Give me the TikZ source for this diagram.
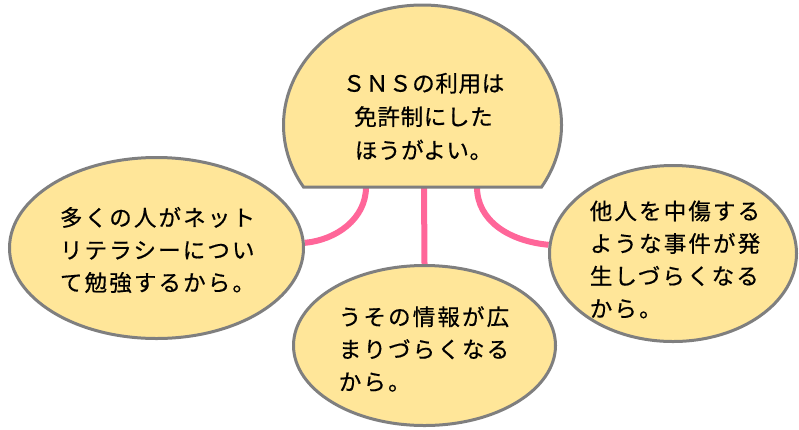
\documentclass[tikz,border=0pt]{standalone}
\usepackage{fontspec}
\newfontfamily\jp[LetterSpace=9.5,FakeBold=0.6]{Noto Sans CJK JP}
\newfontfamily\jpt[LetterSpace=3,FakeBold=0.6]{Noto Sans CJK JP}
\usetikzlibrary{shapes.geometric}
\pgfdeclarelayer{bg}
\pgfsetlayers{bg,main}
\definecolor{fillc}{HTML}{FFE699}
\definecolor{linec}{HTML}{7F7F7F}
\definecolor{pinkc}{HTML}{FF6699}
\begin{document}
\begin{tikzpicture}[x=1pt,y=-1pt,
  bubble/.style={ellipse, draw=linec, fill=fillc, line width=3pt, inner sep=0pt},
  txt/.style={font=\jp\fontsize{22.5}{32.5}\selectfont, align=left, inner sep=0pt},
  ttxt/.style={font=\jpt\fontsize{22.5}{33.5}\selectfont, align=center, inner sep=0pt},
  link/.style={draw=pinkc, line width=6pt}]
\useasboundingbox (0,0) rectangle (799,429);
% top shape
\path[draw=linec, fill=fillc, line width=3pt, line join=miter]
  (303.5,187) arc[start angle=148.9, end angle=391.1, x radius=139, y radius=120] -- cycle;
\coordinate (tL) at (366,187);
\coordinate (tM) at (424,187);
\coordinate (tR) at (477,187);
\node[ttxt] (Ttxt) at (423.5,116.5) {ＳＮＳの利用は\\免許制にした\\ほうがよい。};
% bubbles
\node[bubble, minimum width=294, minimum height=181] (L) at (156.5,248) {};
\node[bubble, minimum width=262, minimum height=160] (B) at (424.5,345.5) {};
\node[bubble, minimum width=247, minimum height=176] (R) at (673,253.5) {};
\node[txt] (Ltxt) at (157.5,250) {多くの人がネット\\リテラシーについ\\て勉強するから。};
\node[txt] (Btxt) at (424,349) {うその情報が広\\まりづらくなる\\から。};
\node[txt] (Rtxt) at (675,259.5) {他人を中傷する\\ような事件が発\\生しづらくなる\\から。};
% connectors
\begin{pgfonlayer}{bg}
\draw[link] (tL) .. controls (366,219) and (336,240) .. (L.2);
\draw[link] (tM) -- (B.north);
\draw[link] (tR) .. controls (477,220) and (508,241) .. (R.176);
\end{pgfonlayer}
\end{tikzpicture}
\end{document}
